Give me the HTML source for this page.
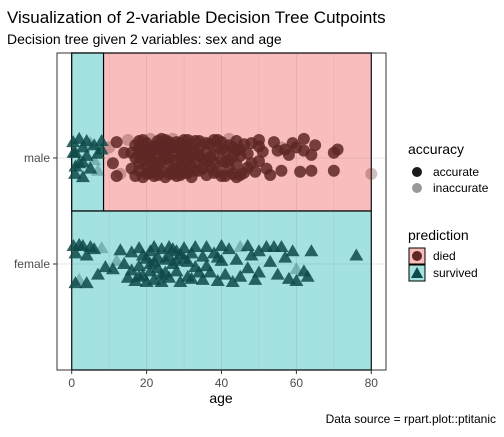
<!DOCTYPE html>
<html><head><meta charset="utf-8"><style>
body{margin:0;background:#fff;font-family:"Liberation Sans",Arial,sans-serif}
svg text{font-family:"Liberation Sans",Arial,sans-serif}
</style></head><body>
<svg id="chart" width="504" height="432" viewBox="0 0 504 432" xmlns="http://www.w3.org/2000/svg">
<text x="7" y="23" font-size="17" fill="#000">Visualization of 2-variable Decision Tree Cutpoints</text>
<text x="7" y="44" font-size="14" fill="#000">Decision tree given 2 variables: sex and age</text>
<rect x="57" y="53" width="329" height="317" fill="#fff" stroke="#333" stroke-width="1"/>
<g id="regions"></g>
<g id="grid"></g>
<g id="points"></g>
<g id="axes"></g>
<text x="221" y="403" font-size="14" text-anchor="middle">age</text>
<text x="496" y="423" font-size="12" text-anchor="end">Data source = rpart.plot::ptitanic</text>
<g>
<text x="408" y="154" font-size="14">accuracy</text>
<circle cx="417" cy="172" r="5" fill="#1a1a1a"/>
<text x="433" y="176" font-size="12">accurate</text>
<circle cx="417" cy="188" r="5" fill="#999"/>
<text x="433" y="192" font-size="12">inaccurate</text>
</g>
<g>
<text x="408" y="240" font-size="14">prediction</text>
<rect x="409" y="248" width="16" height="16" fill="#F9BDBD" stroke="#000"/>
<circle cx="417" cy="256" r="5" fill="#5E2724"/>
<text x="433" y="260" font-size="12">died</text>
<rect x="409" y="265" width="16" height="16" fill="#A4E1E1" stroke="#000"/>
<polygon points="417,267 423,278 411,278" fill="#0F4A48"/>
<text x="433" y="277" font-size="12">survived</text>
</g>
</svg>
<script>
const xTicks=[0,20,40,60,80];
const yCats=["female","male"];
const cutAge=8.5;
// male adults predicted died: [age, jitter, accurate(1)/inaccurate(0)]
const maleDied=[[10,0.1,0],[11,-0.05,1],[12,0.15,1],[13,-0.15,0],[14,0.05,1],[15,0.17,0],[16,-0.1,1],[17,0.12,1],[17,-0.17,1],[18,0.02,1],[18,0.16,1],[18,-0.12,1],[19,0.08,1],[19,-0.02,1],[19,-0.18,1],[20,0.14,1],[20,-0.08,1],[20,0.03,1],[21,0.18,0],[21,-0.14,1],[21,0.06,1],[22,-0.04,1],[22,0.11,1],[22,-0.17,1],[23,0.16,1],[23,-0.09,1],[23,0.01,1],[24,0.13,1],[24,-0.13,1],[24,0.07,1],[25,-0.01,1],[25,0.17,1],[25,-0.18,1],[26,0.09,1],[26,-0.06,1],[26,0.15,1],[27,-0.15,1],[27,0.04,1],[27,0.18,0],[28,-0.11,1],[28,0.1,1],[28,-0.02,1],[29,0.14,1],[29,-0.16,1],[29,0.0,1],[30,0.17,1],[30,-0.07,1],[30,0.08,1],[31,-0.14,1],[31,0.12,1],[32,0.02,1],[32,-0.18,1],[33,0.16,1],[33,-0.04,1],[34,0.09,1],[34,-0.12,1],[35,0.15,0],[35,-0.01,1],[36,0.06,1],[36,-0.16,1],[37,0.13,1],[37,-0.08,1],[38,0.03,1],[38,0.17,1],[39,-0.13,1],[39,0.1,1],[40,-0.03,1],[40,0.15,1],[41,-0.17,1],[41,0.07,1],[42,-0.1,1],[42,0.12,1],[43,0.01,1],[43,-0.15,1],[44,0.16,1],[44,-0.06,1],[45,0.08,1],[45,-0.16,1],[46,0.13,1],[47,-0.09,1],[47,0.04,1],[48,0.14,1],[49,-0.13,1],[50,0.11,1],[50,-0.03,1],[51,0.06,1],[52,-0.1,1],[54,0.15,1],[55,0.07,1],[56,-0.12,1],[57,0.08,1],[58,0.03,1],[59,0.14,1],[60,0.1,1],[61,-0.13,1],[62,0.07,1],[64,0.03,1],[65,0.12,1],[70,-0.12,1],[71,0.08,1],[22,0.08,1],[26,0.0,1],[30,-0.14,1],[18,-0.05,1],[34,0.02,1],[20,-0.15,1],[24,-0.02,1],[28,0.15,1],[32,0.07,1],[36,-0.03,1],[19,0.12,1],[21,-0.07,1],[25,0.1,1],[27,-0.11,1],[29,0.08,1],[31,-0.03,1],[33,-0.12,1],[38,-0.14,1],[45,0.02,1],[80,-0.15,0],[40,-0.17,1],[48,-0.05,1],[53,-0.16,1],[44,-0.18,1],[42,0.18,0],[56,0.1,0],[12,-0.17,1],[16,0.05,1],[64,-0.12,1],[62,0.18,1],[70,0.05,1],[50,0.17,1],[17,0.0,1],[19,0.17,1],[21,-0.01,1],[23,-0.16,1],[25,0.05,1],[27,0.11,1],[29,-0.08,1],[31,0.17,1],[33,0.06,1],[35,-0.1,1],[37,0.01,1],[39,0.17,1],[41,-0.04,1],[43,0.1,1],[20,0.1,1],[24,0.18,1],[28,-0.17,1],[32,-0.08,1],[36,0.14,1],[40,0.08,1],[22,-0.11,1],[26,-0.15,1],[30,0.01,1],[34,0.16,1],[38,-0.05,1],[42,-0.02,1],[46,-0.14,1],[44,0.07,1],[18,0.09,1],[23,0.1,1]];
// male children predicted survived
const maleBoys=[[0.4,0.15,1],[0.9,-0.15,1],[1,0.05,1],[2,0.18,1],[2,-0.05,1],[3,0.1,1],[3,-0.18,1],[4,0.02,1],[4,0.16,1],[5,-0.1,1],[6,0.12,1],[6,-0.02,0],[7,0.04,1],[7,-0.12,0],[8,0.08,1],[8,0.16,1],[1,-0.08,1],[0.5,0.05,1],[5,0.14,0],[3,-0.04,1]];
// females predicted survived
const females=[[0.5,0.17,1],[1,-0.18,1],[1,0.1,1],[2,0.18,1],[2,-0.15,0],[3,0.17,1],[4,-0.18,1],[4,0.08,1],[5,0.16,1],[6,0.14,1],[7,-0.1,1],[8,0.15,0],[9,-0.03,1],[11,-0.05,1],[12,0.03,0],[13,0.13,1],[14,0.0,1],[15,-0.13,1],[16,0.11,1],[16,-0.06,1],[17,-0.16,1],[18,0.15,1],[18,-0.02,1],[18,-0.12,1],[19,0.08,1],[20,-0.17,1],[21,0.12,1],[21,-0.07,1],[22,0.16,1],[22,0.02,1],[22,-0.15,1],[23,0.06,1],[24,-0.1,1],[24,0.14,1],[24,-0.17,1],[25,0.04,1],[26,0.16,1],[26,-0.13,1],[27,0.0,1],[28,0.12,1],[28,-0.07,1],[29,-0.17,1],[30,0.15,1],[30,0.05,1],[31,-0.12,1],[32,0.1,1],[33,-0.03,1],[33,0.16,1],[35,-0.15,1],[35,0.07,1],[36,0.16,1],[37,-0.08,1],[38,0.1,1],[39,-0.16,1],[40,0.03,1],[40,0.17,1],[41,-0.1,1],[42,0.14,1],[43,-0.17,1],[44,0.04,1],[45,0.16,0],[45,-0.12,1],[47,0.17,1],[47,-0.04,1],[48,0.08,1],[49,-0.15,1],[50,0.12,1],[50,-0.08,1],[52,0.16,1],[53,0.02,1],[54,0.16,1],[55,-0.1,1],[56,0.16,1],[57,0.06,1],[58,-0.14,1],[59,0.12,1],[60,-0.05,0],[60,-0.16,1],[62,-0.07,1],[63,-0.12,1],[64,0.12,1],[76,0.08,1],[23,-0.04,1],[26,0.07,1],[20,0.05,1],[31,0.02,1],[34,-0.08,1],[39,0.06,1],[27,0.14,1],[19,-0.11,1],[29,0.09,1],[25,-0.08,1],[21,0.0,1],[36,-0.02,1],[32,-0.14,1],[28,0.03,1]];

const NS="http://www.w3.org/2000/svg";
function xS(a){return 71.7+a*3.745;}
function yS(v){return 370-v*106;}
function mk(tag,attrs,parent){const e=document.createElementNS(NS,tag);for(const k in attrs)e.setAttribute(k,attrs[k]);parent.appendChild(e);return e;}
const reg=document.getElementById('regions'),grid=document.getElementById('grid'),pts=document.getElementById('points'),axes=document.getElementById('axes');
let r;
r=mk('rect',{x:xS(0),y:53,width:xS(80)-xS(0),height:yS(1.5)-53,fill:'#F9BDBD',stroke:'#000','stroke-width':1.2},reg);


r=mk('rect',{x:xS(0),y:53,width:xS(cutAge)-xS(0),height:yS(1.5)-53,fill:'#A4E1E1',stroke:'#000','stroke-width':1.2},reg);


r=mk('rect',{x:xS(0),y:yS(1.5),width:xS(80)-xS(0),height:370-yS(1.5),fill:'#A4E1E1',stroke:'#000','stroke-width':1.2},reg);


for(let a=0;a<=80;a+=10){const l=mk('line',{x1:xS(a),x2:xS(a),y1:53,y2:370,stroke:'rgba(120,120,120,0.18)','stroke-width':a%20?0.6:1},grid);

}
yCats.forEach((c,i)=>{const y=yS(i+1);const l=mk('line',{x1:57,x2:386,y1:y,y2:y,stroke:'rgba(120,120,120,0.18)','stroke-width':1},grid);


const t=mk('line',{x1:53,x2:57,y1:y,y2:y,stroke:'#333'},axes);


const tx=mk('text',{x:50,y:y+4,'font-size':12,'text-anchor':'end',fill:'#4d4d4d'},axes);tx.textContent=c;

});
xTicks.forEach(a=>{const x=xS(a);const t=mk('line',{x1:x,x2:x,y1:370,y2:374,stroke:'#333'},axes);


const tx=mk('text',{x:x,y:387,'font-size':12,'text-anchor':'middle',fill:'#4d4d4d'},axes);tx.textContent=a;

});
function circ(p,base){const c=mk('circle',{cx:xS(p[0]),cy:yS(base+p[1]),r:6,fill:'#5E2724','fill-opacity':p[2]?0.85:0.3},pts);

}
function tri(p,base){const x=xS(p[0]),y=yS(base+p[1]);const t=mk('polygon',{points:`${x},${y-7} ${x+7},${y+5} ${x-7},${y+5}`,fill:'#0F4A48','fill-opacity':p[2]?0.85:0.3},pts);

}
maleDied.forEach(p=>circ(p,2));
maleBoys.forEach(p=>tri(p,2));
females.forEach(p=>tri(p,1));
</script>
</body></html>
